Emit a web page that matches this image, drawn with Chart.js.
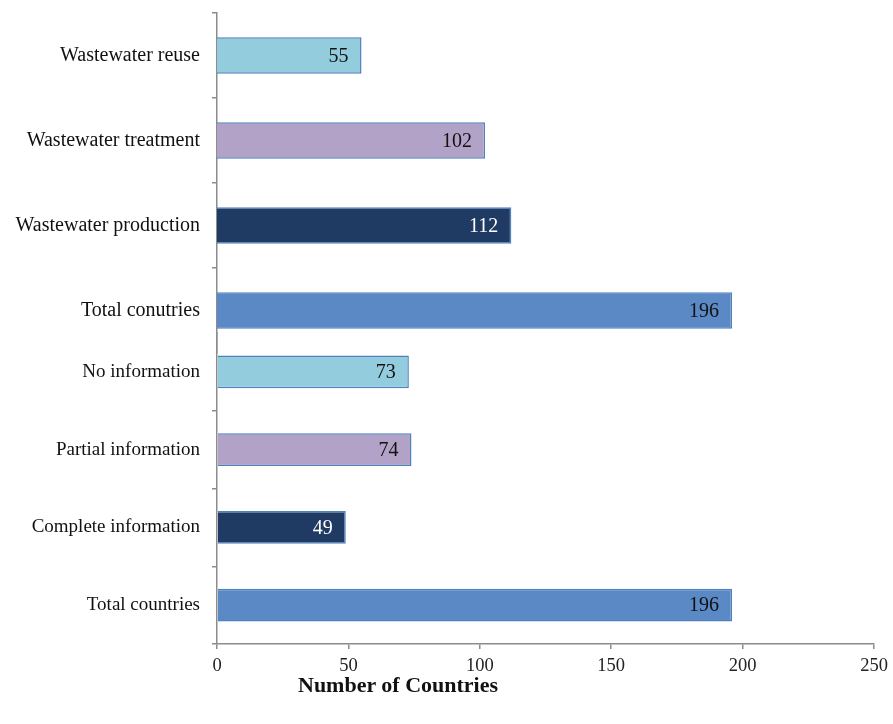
<!DOCTYPE html>
<html>
<head>
<meta charset="utf-8">
<script src="https://cdn.jsdelivr.net/npm/chart.js@4.4.1/dist/chart.umd.min.js"></script>
<style>
  html, body { margin: 0; padding: 0; background: #fff; }
  #wrap { position: relative; width: 893px; height: 724px; }
  #topBox { position: absolute; left: 0; top: 0; }
  #bottomBox { position: absolute; left: 0; top: 320px; }
  canvas { display: block; }
  #xTitle {
    position: absolute; left: 298px; top: 674px;
    font: bold 22px "Liberation Serif", "Times New Roman", serif;
    color: #111; line-height: 1; white-space: nowrap;
  }
</style>
</head>
<body>
<div id="wrap">
  <div id="topBox"><canvas id="topChart" width="893" height="360"></canvas></div>
  <div id="bottomBox"><canvas id="bottomChart" width="893" height="404"></canvas></div>
  <div id="xTitle">Number of Countries</div>
</div>
<script>
// data
const wastewaterLabels = ["Wastewater reuse", "Wastewater treatment", "Wastewater production", "Total conutries"];
const wastewaterValues = [55, 102, 112, 196];
const infoLabels = ["No information", "Partial information", "Complete information", "Total countries"];
const infoValues = [73, 74, 49, 196];
const xTicks = [0, 50, 100, 150, 200, 250];

// styles
const barColors = ["#93CDDD", "#B3A2C7", "#1F3A63", "#5B89C5"];
const valueColors = ["#111", "#111", "#fff", "#111"];
const axisGrey = "#8c8c8c";
const serif = "'Liberation Serif', 'Times New Roman', serif";

const valueLabels = {
  id: "valueLabels",
  afterDatasetsDraw(chart) {
    const ctx = chart.ctx;
    const ds = chart.data.datasets[0];
    const meta = chart.getDatasetMeta(0);
    ctx.save();
    ctx.font = "20px " + serif;
    ctx.textAlign = "right";
    ctx.textBaseline = "middle";
    meta.data.forEach((bar, i) => {
      ctx.fillStyle = valueColors[i];
      ctx.fillText(String(ds.data[i]), bar.x - 13, bar.y + 1);
    });
    ctx.restore();
  }
};

function makeChart(id, labels, values, opts) {
  return new Chart(document.getElementById(id), {
    type: "bar",
    data: {
      labels: labels,
      datasets: [{
        data: values,
        backgroundColor: barColors,
        borderColor: "#4F81BD",
        borderWidth: 1.5,
        categoryPercentage: 1,
        barPercentage: opts.barPct
      }]
    },
    options: {
      indexAxis: "y",
      responsive: false,
      animation: false,
      layout: { padding: { top: 13, bottom: opts.padBottom, left: 0, right: 19 } },
      plugins: { legend: { display: false }, tooltip: { enabled: false } },
      scales: {
        x: {
          display: opts.showX,
          min: 0,
          max: 250,
          afterBuildTicks: (scale) => { scale.ticks = xTicks.map(v => ({ value: v })); },
          afterFit: (scale) => {
            scale.height = opts.showX ? 80 : 0;
            scale.paddingLeft = 0;
            scale.paddingRight = 0;
          },
          border: { color: axisGrey, width: 1.5 },
          grid: { drawOnChartArea: false, tickLength: 5, color: axisGrey, lineWidth: 1.5 },
          ticks: { color: "#222", padding: 6, font: { family: serif, size: 18.5 } }
        },
        y: {
          afterFit: (scale) => {
            scale.width = 217;
            scale.paddingTop = 0;
            scale.paddingBottom = 0;
          },
          border: { color: axisGrey, width: 1.5 },
          grid: {
            offset: true,
            drawOnChartArea: false,
            tickLength: 5,
            lineWidth: 1.5,
            color: opts.gridColor
          },
          ticks: { color: "#111", padding: 12, font: { family: serif, size: opts.labelSize } }
        }
      }
    },
    plugins: [valueLabels]
  });
}

// top group: hide the bottom edge tick
makeChart("topChart", wastewaterLabels, wastewaterValues, {
  barPct: 0.43, padBottom: 7, showX: false, labelSize: 20,
  gridColor: (c) => (c.type === "tick" ? axisGrey : "rgba(0,0,0,0)")
});

// bottom group: hide the top edge tick
makeChart("bottomChart", infoLabels, infoValues, {
  barPct: 0.42, padBottom: 0, showX: true, labelSize: 19,
  gridColor: (c) => (c.type === "tick" && c.index === 0 ? "rgba(0,0,0,0)" : axisGrey)
});
</script>
</body>
</html>
